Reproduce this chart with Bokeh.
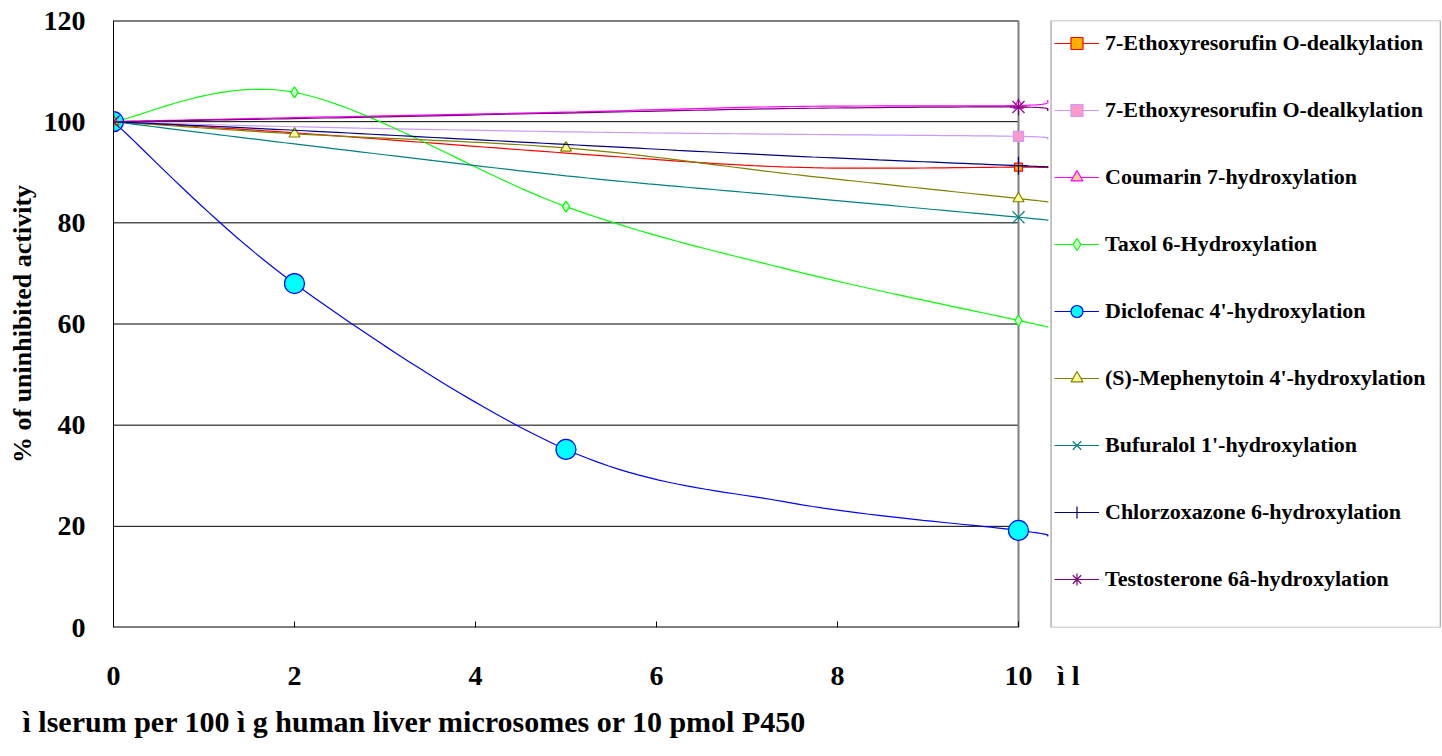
import numpy as np
from bokeh.plotting import figure
from bokeh.models import Range1d, Legend, LegendItem, FixedTicker, BoxAnnotation, Title
from bokeh.embed import file_html
from bokeh.resources import INLINE

# ---------------- data ----------------
x_curve = [0, 2, 5, 7.5, 10]        # x positions
x_edge = 10.33                      # curves run on to the legend's left border
x_ticks = [0, 2, 4, 6, 8, 10]
x_unit_pos = 10.55                  # where the unit label sits on the x axis
y_ticks = [0, 20, 40, 60, 80, 100, 120]

names = [
    "7-Ethoxyresorufin O-dealkylation",
    "7-Ethoxyresorufin O-dealkylation",
    "Coumarin 7-hydroxylation",
    "Taxol 6-Hydroxylation",
    "Diclofenac 4'-hydroxylation",
    "(S)-Mephenytoin 4'-hydroxylation",
    "Bufuralol 1'-hydroxylation",
    "Chlorzoxazone 6-hydroxylation",
    "Testosterone 6\u00e2-hydroxylation",
]

ethoxy_a = [100, 97.8, 93.8, 91.0, 91.0]
ethoxy_b = [100, 99.0, 98.0, 97.5, 97.1]
coumarin = [100, 100.8, 101.9, 103.0, 103.2]
taxol = [100, 105.8, 83.2, 70.6, 60.7]
diclofenac = [100, 68.0, 35.2, 24.6, 19.2]
mephenytoin = [100, 97.6, 94.8, 89.6, 84.8]
bufuralol = [100, 95.6, 89.3, 85.2, 81.1]
chlorzoxazone = [100, 98.3, 95.5, 93.2, 91.3]
testosterone = [100, 100.6, 101.7, 102.6, 102.9]

# value of each curve where it meets the legend border
edge_values = [90.9, 96.6, 104.2, 59.4, 18.1, 84.1, 80.5, 91.1, 102.2]

# which of the x_curve points carry a visible marker
marked_all = [True, True, True, False, True]
marked_ends = [True, False, False, False, True]
marker_masks = [marked_ends, marked_ends, marked_ends, marked_all, marked_all,
                marked_all, marked_ends, marked_ends, marked_ends]

series_values = [ethoxy_a, ethoxy_b, coumarin, taxol, diclofenac,
                 mephenytoin, bufuralol, chlorzoxazone, testosterone]

x_title = "\u00ec lserum per 100 \u00ec g human liver microsomes or 10 pmol P450"
y_title = "% of uninhibited activity"
x_unit = "\u00ec l"

# ---------------- styles ----------------
styles = [
    dict(line="#FF0000", marker="square", fill="#FFB000", edge="#FF0000", size=8),
    dict(line="#CC99FF", marker="square", fill="#FF99CC", edge="#CC99FF", size=10),
    dict(line="#FF00FF", marker="triangle", fill="#FFCC99", edge="#FF00FF", size=10),
    dict(line="#00FF00", marker="diamond", fill="#CCFFCC", edge="#00FF00", size=11),
    dict(line="#0000FF", marker="circle", fill="#00FFFF", edge="#0000FF", size=20),
    dict(line="#808000", marker="triangle", fill="#FFFF99", edge="#808000", size=11),
    dict(line="#008080", marker="x", fill="#008080", edge="#008080", size=17),
    dict(line="#000080", marker="cross", fill="#000080", edge="#000080", size=18),
    dict(line="#800080", marker="asterisk", fill="#800080", edge="#800080", size=17),
]

FONT = "Liberation Serif"
PX_PER_X = 90.5
FRAME_W = 1328
FRAME_H = 607
x_max = FRAME_W / PX_PER_X
legend_left = 10.36
tick_len = 6 * (y_ticks[-1] - y_ticks[0]) / FRAME_H   # 6 px inner ticks


def smooth(xs, ys, n=24):
    """Excel-like smoothed line (cubic Bezier through the points)."""
    pts = np.column_stack([xs, ys]).astype(float)
    m = len(pts)
    out = []
    t = np.linspace(0, 1, n)
    for i in range(m - 1):
        p0 = pts[max(i - 1, 0)]
        p1 = pts[i]
        p2 = pts[i + 1]
        p3 = pts[min(i + 2, m - 1)]
        c1 = p1 + (p2 - p0) / 6.0
        c2 = p2 - (p3 - p1) / 6.0
        seg = ((1 - t) ** 3)[:, None] * p1 + (3 * (1 - t) ** 2 * t)[:, None] * c1 \
            + (3 * (1 - t) * t ** 2)[:, None] * c2 + (t ** 3)[:, None] * p2
        out.append(seg if i == 0 else seg[1:])
    arr = np.vstack(out)
    return arr[:, 0], arr[:, 1]


p = figure(frame_width=FRAME_W, frame_height=FRAME_H,
           x_range=Range1d(0, x_max), y_range=Range1d(y_ticks[0], y_ticks[-1]),
           output_backend="svg", toolbar_location=None,
           min_border_left=113, min_border_top=20, min_border_bottom=10,
           min_border_right=1)
p.outline_line_color = None
p.xgrid.visible = False
p.ygrid.visible = False
p.background_fill_color = "white"
p.border_fill_color = "white"

# gridlines (stop at the last x tick like the reference)
for yt in y_ticks[1:-1]:
    p.segment(x0=x_ticks[0], y0=yt, x1=x_ticks[-1], y1=yt,
              line_color="black", line_width=1)
# frame pieces
p.segment(x0=x_ticks[0], y0=y_ticks[-1], x1=x_ticks[-1], y1=y_ticks[-1],
          line_color="black", line_width=2)
p.segment(x0=x_ticks[0], y0=y_ticks[0], x1=x_ticks[-1], y1=y_ticks[0],
          line_color="black", line_width=2)
p.segment(x0=x_ticks[-1], y0=y_ticks[0], x1=x_ticks[-1], y1=y_ticks[-1],
          line_color="#808080", line_width=2)
# inner tick marks on the x axis
p.segment(x0=x_ticks, y0=[y_ticks[0]] * len(x_ticks),
          x1=x_ticks, y1=[y_ticks[0] + tick_len] * len(x_ticks),
          line_color="black", line_width=1)

items = []
for name, vals, ev, mask, st in zip(names, series_values, edge_values,
                                    marker_masks, styles):
    sx, sy = smooth(x_curve + [x_edge], vals + [ev])
    lr = p.line(sx, sy, line_color=st["line"], line_width=1.2)
    mx = [x for x, m in zip(x_curve, mask) if m]
    my = [v for v, m in zip(vals, mask) if m]
    sr = p.scatter(mx, my, marker=st["marker"], size=st["size"],
                   fill_color=st["fill"], line_color=st["edge"], line_width=1.2)
    items.append(LegendItem(label=name, renderers=[lr, sr]))

# legend box (covers the plot area to its right, as in the reference)
p.add_layout(BoxAnnotation(left=legend_left, right=x_max - 0.012,
                           bottom=y_ticks[0], top=y_ticks[-1],
                           fill_color="white", fill_alpha=1.0,
                           line_color="black", line_width=1.5))

# axes
p.yaxis.ticker = FixedTicker(ticks=y_ticks)
p.xaxis.ticker = FixedTicker(ticks=x_ticks + [x_unit_pos])
p.xaxis.major_label_overrides = {x_unit_pos: x_unit}
for ax in (p.xaxis[0], p.yaxis[0]):
    ax.major_label_text_font = FONT
    ax.major_label_text_font_style = "bold"
    ax.major_label_text_font_size = "28px"
    ax.major_label_text_color = "black"
    ax.minor_tick_line_color = None
    ax.major_tick_out = 0
    ax.major_tick_in = 0
    ax.major_tick_line_color = None
p.yaxis.axis_line_color = "black"
p.yaxis.major_label_standoff = 28
p.yaxis.axis_label = y_title
p.yaxis.axis_label_text_font = FONT
p.yaxis.axis_label_text_font_style = "bold"
p.yaxis.axis_label_text_font_size = "26px"
p.yaxis.axis_label_text_color = "black"
p.yaxis.axis_label_standoff = 4

p.xaxis.axis_line_color = None
p.xaxis.major_label_standoff = 32

p.add_layout(Title(text=x_title, align="left", offset=-91, standoff=18,
                   text_font=FONT, text_font_style="bold",
                   text_font_size="30px", text_color="black"), "below")

legend = Legend(items=items, location=(941, 33))
legend.margin = 0
legend.padding = 10
legend.spacing = 37
legend.glyph_width = 45
legend.glyph_height = 30
legend.label_height = 30
legend.label_standoff = 6
legend.label_text_font = FONT
legend.label_text_font_style = "bold"
legend.label_text_font_size = "22px"
legend.label_text_color = "black"
legend.border_line_color = None
legend.background_fill_alpha = 0.0
p.add_layout(legend)

open("out.html", "w").write(file_html(p, INLINE))
